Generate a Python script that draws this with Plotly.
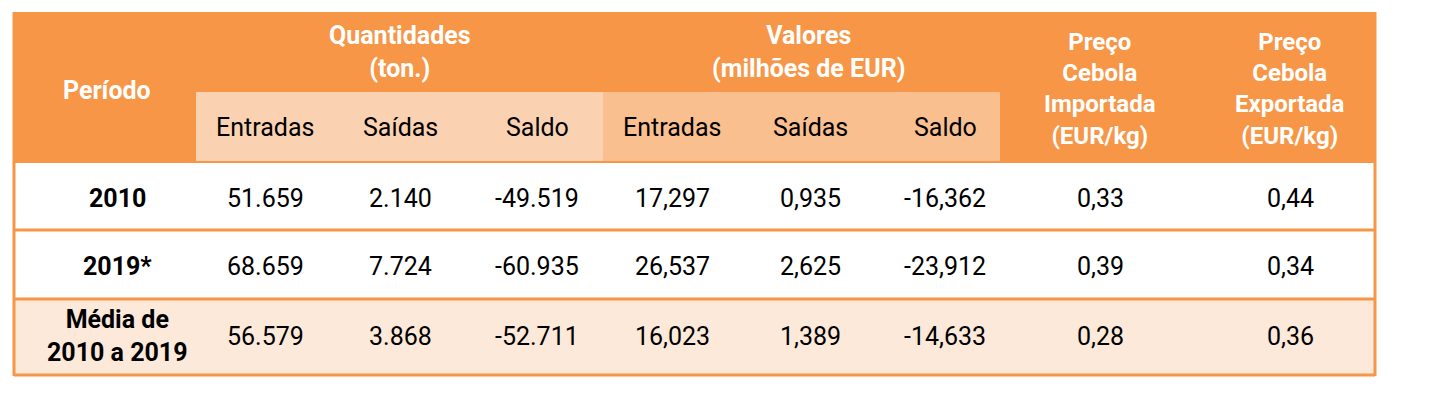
import plotly.graph_objects as go

periods = ["<b>2010</b>", "<b>2019*</b>", "<b>Média de<br>2010 a 2019</b>"]
q_entradas = ["51.659", "68.659", "56.579"]
q_saidas = ["2.140", "7.724", "3.868"]
q_saldo = ["-49.519", "-60.935", "-52.711"]
v_entradas = ["17,297", "26,537", "16,023"]
v_saidas = ["0,935", "2,625", "1,389"]
v_saldo = ["-16,362", "-23,912", "-14,633"]
preco_imp = ["0,33", "0,39", "0,28"]
preco_exp = ["0,44", "0,34", "0,36"]
sub_headers = ["Entradas", "Saídas", "Saldo", "Entradas", "Saídas", "Saldo"]

ORANGE = "#F79646"
FONT = "Liberation Sans Narrow, Arial Narrow, Roboto, sans-serif"

col_x = [117, 265, 400, 537, 672, 810, 945, 1100, 1290]
row_y = [198, 266, 336]
L, R, T = 14, 1375, 12

fig = go.Figure()
shapes = []
shapes.append(dict(type="rect", x0=L, x1=R, y0=T, y1=163, fillcolor=ORANGE, line_width=0, layer="below"))
shapes.append(dict(type="rect", x0=196, x1=603, y0=92, y1=161, fillcolor="#FAD2B2", line_width=0, layer="below"))
shapes.append(dict(type="rect", x0=603, x1=1000, y0=92, y1=161, fillcolor="#F9BF8F", line_width=0, layer="below"))
shapes.append(dict(type="rect", x0=L, x1=R, y0=299, y1=375, fillcolor="#FDE9D9", line_width=0, layer="below"))
for y in [230, 299, 375]:
    shapes.append(dict(type="line", x0=L, x1=R, y0=y, y1=y, line=dict(color=ORANGE, width=3)))
shapes.append(dict(type="line", x0=L, x1=L, y0=T, y1=376, line=dict(color=ORANGE, width=3)))
shapes.append(dict(type="line", x0=R, x1=R, y0=T, y1=376, line=dict(color=ORANGE, width=3)))

ann = []
def t(x, y, s, color="black", bold=False, size=25):
    ann.append(dict(x=x, y=y, text=(f"<b>{s}</b>" if bold else s), showarrow=False,
                    font=dict(family=FONT, size=size, color=color), xanchor="center", yanchor="middle"))

t(107, 90, "Período", "white", True)
t(400, 52, "Quantidades<br>(ton.)", "white", True)
t(808, 52, "Valores<br>(milhões de EUR)", "white", True)
t(1100, 89, "Preço<br>Cebola<br>Importada<br>(EUR/kg)", "white", True, 24)
t(1290, 89, "Preço<br>Cebola<br>Exportada<br>(EUR/kg)", "white", True, 24)
for i, s in enumerate(sub_headers):
    t(col_x[i + 1], 127, s)
cols = [periods, q_entradas, q_saidas, q_saldo, v_entradas, v_saidas, v_saldo, preco_imp, preco_exp]
for c, vals in enumerate(cols):
    for r, v in enumerate(vals):
        t(col_x[c], row_y[r], v)
        
fig.add_trace(go.Scatter(x=[8, 1443], y=[8, 415], mode="markers", marker=dict(opacity=0), hoverinfo="skip"))
fig.update_layout(width=1435, height=407, margin=dict(l=0, r=0, t=0, b=0),
                  plot_bgcolor="white", paper_bgcolor="white", showlegend=False,
                  shapes=shapes, annotations=ann,
                  xaxis=dict(range=[8, 1443], visible=False, fixedrange=True),
                  yaxis=dict(range=[415, 8], visible=False, fixedrange=True))
fig.write_html("out.html", config={"displayModeBar": False})
